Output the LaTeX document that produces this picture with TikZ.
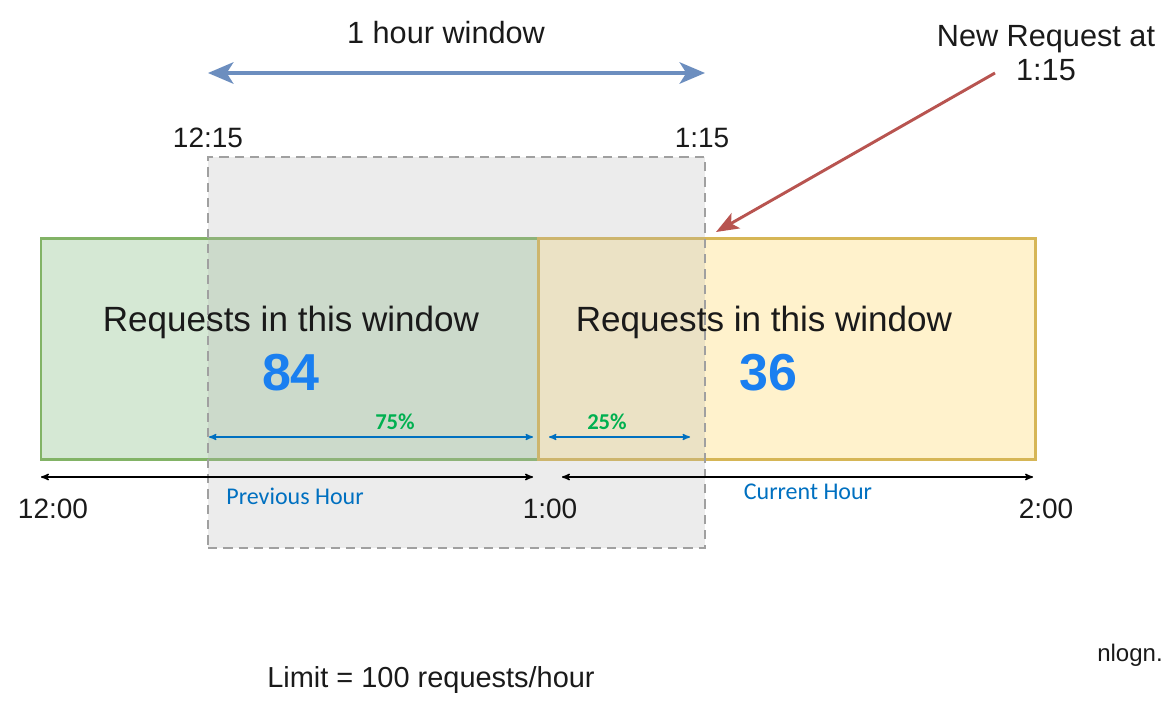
\documentclass[tikz,border=0pt]{standalone}
\usepackage{fontspec}
\setmainfont{Liberation Sans}
\newfontfamily\calibri{Carlito}
\usetikzlibrary{arrows,arrows.meta,positioning}

\definecolor{prevfill}{HTML}{D5E8D4}
\definecolor{prevdraw}{HTML}{82B366}
\definecolor{currfill}{HTML}{FFF2CC}
\definecolor{currdraw}{HTML}{D6B656}
\definecolor{winfill}{HTML}{B3B3B3}
\definecolor{windraw}{HTML}{A0A0A0}
\definecolor{spanblue}{HTML}{6C8EBF}
\definecolor{reqred}{HTML}{B85450}
\definecolor{numblue}{HTML}{1A7FF0}
\definecolor{pctgreen}{HTML}{00B050}
\definecolor{hourblue}{HTML}{0070C0}
\definecolor{ink}{HTML}{1A1A1A}

\begin{document}
\begin{tikzpicture}[x=0.75pt,y=-0.75pt,>=stealth',semithick]
  \tikzstyle{every node}=[inner sep=0pt,text=ink]
  \tikzstyle{hourbox}=[draw,line width=2pt,minimum width=373pt,minimum height=166pt]
  \tikzstyle{timelbl}=[font=\fontsize{21}{25}\selectfont]
  \tikzstyle{reqlbl}=[font=\fontsize{26.3}{30}\selectfont]
  \tikzstyle{count}=[font=\fontsize{39}{44}\selectfont\bfseries,text=numblue]
  \tikzstyle{pct}=[font=\calibri\fontsize{17}{20}\selectfont\bfseries,text=pctgreen]
  \tikzstyle{hourlbl}=[font=\calibri\fontsize{18}{21}\selectfont,text=hourblue]
  \tikzstyle{tick}=[<->,line width=1.1pt,black]
  \tikzstyle{part}=[<->,line width=1pt,hourblue]

  \useasboundingbox (0,0) rectangle (1163,710);

  % the two fixed hours
  \node[hourbox,fill=prevfill,draw=prevdraw] (prev) at (289.5,349) {};
  \node[hourbox,fill=currfill,draw=currdraw] (curr) at (787,349) {};

  % sliding window
  \node[draw=windraw,dashed,dash pattern=on 7pt off 4.5pt,line width=1.5pt,
        fill=winfill,fill opacity=0.25,minimum width=373pt,minimum height=293pt]
        (win) at (456.5,352.5) {};

  \node[reqlbl] (prevtxt) at (291,322) {Requests in this window};
  \node[reqlbl] (currtxt) at (764,322) {Requests in this window};
  \node[count] (prevnum) at (291,373) {84};
  \node[count] (currnum) at (768,373) {36};

  \node[pct] (p75) at (395,422) {75\%};
  \node[pct] (p25) at (607,422) {25\%};

  \node[font=\fontsize{23}{27}\selectfont] (span) at (446,33) {1 hour window};
  \node[timelbl] (t1215) at (208,138) {12:15};
  \node[timelbl] (t115) at (702,138) {1:15};
  \node[font=\fontsize{23}{25}\selectfont,align=center] (newreq) at (1046,53) {New Request at\\1:15};

  \node[timelbl] (t1200) at (53,509) {12:00};
  \node[timelbl] (t100) at (550,509) {1:00};
  \node[timelbl] (t200) at (1046,509) {2:00};
  \node[hourlbl] (prevhr) at (295,496) {Previous Hour};
  \node[hourlbl] (currhr) at (808,492) {Current Hour};

  \node[font=\fontsize{21.7}{25}\selectfont] (limit) at (431,680) {Limit = 100 requests/hour};
  \node[font=\fontsize{18}{20}\selectfont] (nlogn) at (1130,655) {nlogn.};

  \coordinate (spanL) at (208,73);
  \coordinate (spanR) at (705,73);
  \coordinate (reqfrom) at (995,73);
  \coordinate (reqto) at (716,232);
  \coordinate (a1) at (41,477);
  \coordinate (a2) at (533,477);
  \coordinate (a3) at (562,477);
  \coordinate (a4) at (1033,477);
  \coordinate (b1) at (209,437);
  \coordinate (b2) at (533,437);
  \coordinate (b3) at (549,437);
  \coordinate (b4) at (690,437);

  \draw[{Stealth[length=19pt,width=16pt,inset=5pt]}-{Stealth[length=19pt,width=16pt,inset=5pt]},
        line width=3pt,spanblue] (spanL) -- (spanR);
  \draw[-{Stealth[length=17pt,width=13pt,inset=4pt]},line width=2.2pt,reqred] (reqfrom) -- (reqto);
  \draw[tick] (a1) -- (a2);
  \draw[tick] (a3) -- (a4);
  \draw[part] (b1) -- (b2);
  \draw[part] (b3) -- (b4);
\end{tikzpicture}
\end{document}
